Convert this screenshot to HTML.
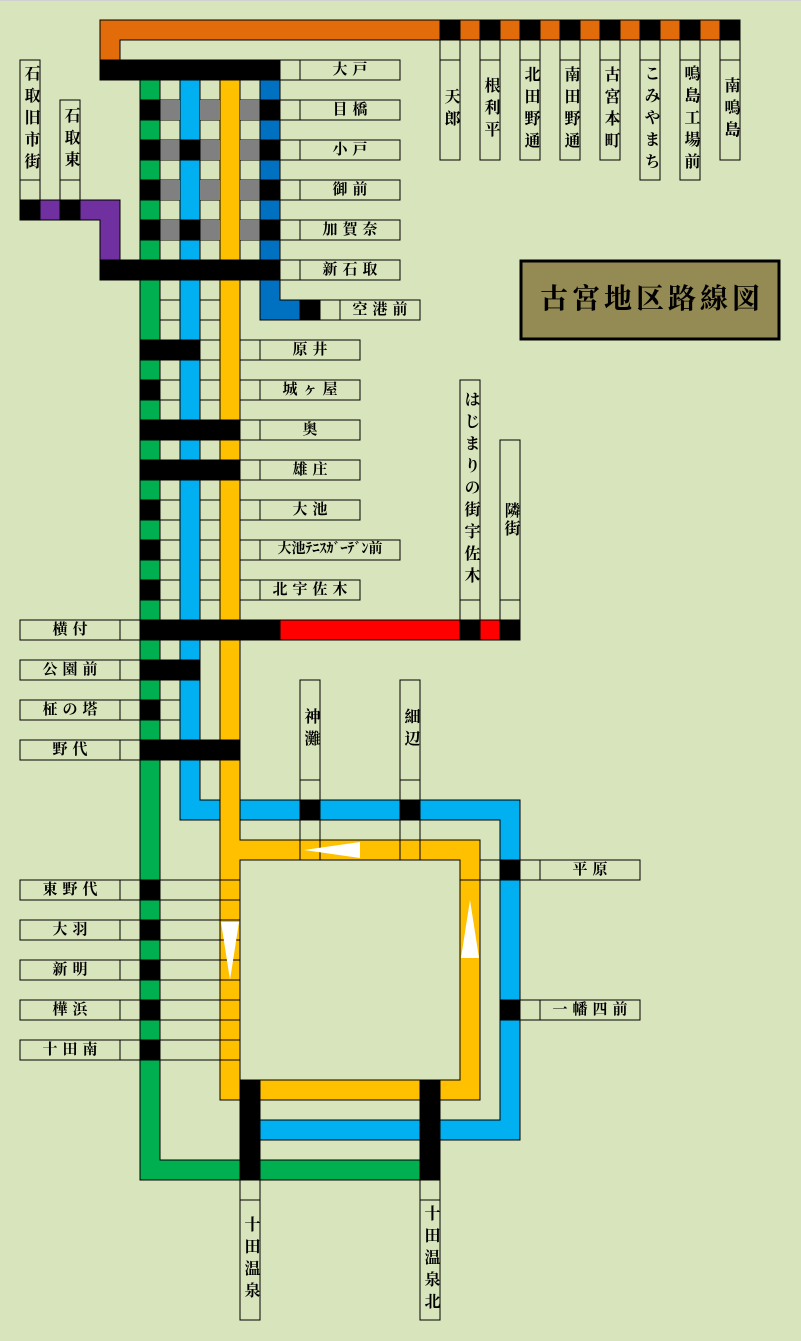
<!DOCTYPE html>
<html><head><meta charset="utf-8"><style>
html,body{margin:0;padding:0;background:#d8e4bc;}
body{width:801px;height:1341px;position:relative;overflow:hidden;font-family:"Liberation Serif","Noto Serif CJK SC","Noto Sans CJK JP",serif;}
svg{position:absolute;left:0;top:0;}
.h{position:absolute;height:20px;line-height:20px;text-align:center;font-size:15px;font-weight:bold;letter-spacing:5px;text-indent:5px;color:#000;white-space:nowrap;}
.v{position:absolute;width:20px;display:flex;align-items:center;justify-content:center;}
.v span{writing-mode:vertical-rl;font-size:16px;font-weight:bold;letter-spacing:6px;line-height:20px;color:#000;}
</style></head><body>
<svg width="801" height="1341" viewBox="0 0 801 1341" shape-rendering="crispEdges">
<rect x="0" y="0" width="801" height="1" fill="#d0d0d0"/>
<g stroke="#000" stroke-width="1">
<!-- grid cells in empty columns -->
<g fill="none">
<path d="M160,80H180M160,100H180M160,120H180M160,140H180M160,160H180M160,180H180M160,200H180M160,220H180M160,240H180M160,260H180M160,280H180M160,300H180M160,320H180M160,340H180M160,360H180M160,380H180M160,400H180M160,420H180M160,440H180M160,460H180M160,480H180M160,500H180M160,520H180M160,540H180M160,560H180M160,580H180M160,600H180M160,620H180M160,640H180M160,660H180M160,680H180M160,700H180M160,720H180M160,740H180M160,760H180"/>
<path d="M200,80H220M200,100H220M200,120H220M200,140H220M200,160H220M200,180H220M200,200H220M200,220H220M200,240H220M200,260H220M200,280H220M200,300H220M200,320H220M200,340H220M200,360H220M200,380H220M200,400H220M200,420H220M200,440H220M200,460H220M200,480H220M200,500H220M200,520H220M200,540H220M200,560H220M200,580H220M200,600H220M200,620H220"/>
<path d="M240,80H260M240,100H260M240,120H260M240,140H260M240,160H260M240,180H260M240,200H260M240,220H260M240,240H260M240,260H260"/>
</g>
<!-- lines -->
<path d="M100,20H740V40H120V60H100Z" fill="#e26b0a"/>
<path d="M20,200H120V260H100V220H20Z" fill="#7030a0"/>
<path d="M260,80H280V300H300V320H260Z" fill="#0070c0"/>
<path d="M140,80H160V1160H420V1180H140Z" fill="#00b050"/>
<path d="M180,80H200V800H520V1140H260V1120H500V820H180Z" fill="#00b0f0"/>
<path d="M220,80H240V840H480V1100H220Z M240,860V1080H460V860Z" fill="#ffc000" fill-rule="evenodd"/>
<path d="M280,620H500V640H280Z" fill="#ff0000"/>
<!-- gray -->
<g fill="#808080" stroke="none">
<rect x="160" y="100" width="20" height="20"/><rect x="200" y="100" width="20" height="20"/><rect x="240" y="100" width="20" height="20"/>
<rect x="160" y="140" width="20" height="20"/><rect x="200" y="140" width="20" height="20"/><rect x="240" y="140" width="20" height="20"/>
<rect x="160" y="180" width="20" height="20"/><rect x="200" y="180" width="20" height="20"/><rect x="240" y="180" width="20" height="20"/>
<rect x="160" y="220" width="20" height="20"/><rect x="200" y="220" width="20" height="20"/><rect x="240" y="220" width="20" height="20"/>
</g>
<!-- black stations -->
<g fill="#000">
<rect x="440" y="20" width="20" height="20"/><rect x="480" y="20" width="20" height="20"/><rect x="520" y="20" width="20" height="20"/><rect x="560" y="20" width="20" height="20"/><rect x="600" y="20" width="20" height="20"/><rect x="640" y="20" width="20" height="20"/><rect x="680" y="20" width="20" height="20"/><rect x="720" y="20" width="20" height="20"/>
<rect x="20" y="200" width="20" height="20"/><rect x="60" y="200" width="20" height="20"/>
<rect x="100" y="60" width="180" height="20"/><rect x="100" y="260" width="180" height="20"/>
<rect x="140" y="100" width="20" height="20"/><rect x="260" y="100" width="20" height="20"/>
<rect x="140" y="140" width="20" height="20"/><rect x="180" y="140" width="20" height="20"/><rect x="260" y="140" width="20" height="20"/>
<rect x="140" y="180" width="20" height="20"/><rect x="260" y="180" width="20" height="20"/>
<rect x="140" y="220" width="20" height="20"/><rect x="180" y="220" width="20" height="20"/><rect x="260" y="220" width="20" height="20"/>
<rect x="300" y="300" width="20" height="20"/>
<rect x="140" y="340" width="60" height="20"/>
<rect x="140" y="380" width="20" height="20"/>
<rect x="140" y="420" width="100" height="20"/>
<rect x="140" y="460" width="100" height="20"/>
<rect x="140" y="500" width="20" height="20"/>
<rect x="140" y="540" width="20" height="20"/>
<rect x="140" y="580" width="20" height="20"/>
<rect x="140" y="620" width="140" height="20"/>
<rect x="460" y="620" width="20" height="20"/><rect x="500" y="620" width="20" height="20"/>
<rect x="140" y="660" width="60" height="20"/>
<rect x="140" y="700" width="20" height="20"/>
<rect x="140" y="740" width="100" height="20"/>
<rect x="140" y="880" width="20" height="20"/><rect x="140" y="920" width="20" height="20"/><rect x="140" y="960" width="20" height="20"/><rect x="140" y="1000" width="20" height="20"/><rect x="140" y="1040" width="20" height="20"/>
<rect x="300" y="800" width="20" height="20"/><rect x="400" y="800" width="20" height="20"/>
<rect x="500" y="860" width="20" height="20"/><rect x="500" y="1000" width="20" height="20"/>
<rect x="240" y="1080" width="20" height="100"/><rect x="420" y="1080" width="20" height="100"/>
</g>
<!-- extra grid lines -->
<path fill="none" d="M160,880H240M160,900H240M160,920H240M160,940H240M160,960H240M160,980H240M160,1000H240M160,1020H240M160,1040H240M160,1060H240
M460,880H500M480,860H500
M300,780V860M320,780V860M400,780V860M420,780V860M300,820H320M400,820H420M300,840H320M400,840H420"/>
<!-- label boxes -->
<g fill="none">
<rect x="280" y="60" width="20" height="20"/><rect x="300" y="60" width="100" height="20"/>
<rect x="280" y="100" width="20" height="20"/><rect x="300" y="100" width="100" height="20"/>
<rect x="280" y="140" width="20" height="20"/><rect x="300" y="140" width="100" height="20"/>
<rect x="280" y="180" width="20" height="20"/><rect x="300" y="180" width="100" height="20"/>
<rect x="280" y="220" width="20" height="20"/><rect x="300" y="220" width="100" height="20"/>
<rect x="280" y="260" width="20" height="20"/><rect x="300" y="260" width="100" height="20"/>
<rect x="320" y="300" width="20" height="20"/><rect x="340" y="300" width="80" height="20"/>
<rect x="240" y="340" width="20" height="20"/><rect x="260" y="340" width="100" height="20"/>
<rect x="240" y="380" width="20" height="20"/><rect x="260" y="380" width="100" height="20"/>
<rect x="240" y="420" width="20" height="20"/><rect x="260" y="420" width="100" height="20"/>
<rect x="240" y="460" width="20" height="20"/><rect x="260" y="460" width="100" height="20"/>
<rect x="240" y="500" width="20" height="20"/><rect x="260" y="500" width="100" height="20"/>
<rect x="240" y="540" width="20" height="20"/><rect x="260" y="540" width="140" height="20"/>
<rect x="240" y="580" width="20" height="20"/><rect x="260" y="580" width="100" height="20"/>
<rect x="20" y="620" width="100" height="20"/><rect x="120" y="620" width="20" height="20"/>
<rect x="20" y="660" width="100" height="20"/><rect x="120" y="660" width="20" height="20"/>
<rect x="20" y="700" width="100" height="20"/><rect x="120" y="700" width="20" height="20"/>
<rect x="20" y="740" width="100" height="20"/><rect x="120" y="740" width="20" height="20"/>
<rect x="20" y="880" width="100" height="20"/><rect x="120" y="880" width="20" height="20"/>
<rect x="20" y="920" width="100" height="20"/><rect x="120" y="920" width="20" height="20"/>
<rect x="20" y="960" width="100" height="20"/><rect x="120" y="960" width="20" height="20"/>
<rect x="20" y="1000" width="100" height="20"/><rect x="120" y="1000" width="20" height="20"/>
<rect x="20" y="1040" width="100" height="20"/><rect x="120" y="1040" width="20" height="20"/>
<rect x="520" y="860" width="20" height="20"/><rect x="540" y="860" width="100" height="20"/>
<rect x="520" y="1000" width="20" height="20"/><rect x="540" y="1000" width="100" height="20"/>
<!-- vertical labels -->
<rect x="440" y="40" width="20" height="20"/><rect x="440" y="60" width="20" height="100"/>
<rect x="480" y="40" width="20" height="20"/><rect x="480" y="60" width="20" height="100"/>
<rect x="520" y="40" width="20" height="20"/><rect x="520" y="60" width="20" height="100"/>
<rect x="560" y="40" width="20" height="20"/><rect x="560" y="60" width="20" height="100"/>
<rect x="600" y="40" width="20" height="20"/><rect x="600" y="60" width="20" height="100"/>
<rect x="640" y="40" width="20" height="20"/><rect x="640" y="60" width="20" height="120"/>
<rect x="680" y="40" width="20" height="20"/><rect x="680" y="60" width="20" height="120"/>
<rect x="720" y="40" width="20" height="20"/><rect x="720" y="60" width="20" height="100"/>
<rect x="20" y="60" width="20" height="120"/><rect x="20" y="180" width="20" height="20"/>
<rect x="60" y="100" width="20" height="80"/><rect x="60" y="180" width="20" height="20"/>
<rect x="460" y="380" width="20" height="220"/><rect x="460" y="600" width="20" height="20"/>
<rect x="500" y="440" width="20" height="160"/><rect x="500" y="600" width="20" height="20"/>
<rect x="300" y="680" width="20" height="100"/>
<rect x="400" y="680" width="20" height="100"/>
<rect x="240" y="1180" width="20" height="20"/><rect x="240" y="1200" width="20" height="120"/>
<rect x="420" y="1180" width="20" height="20"/><rect x="420" y="1200" width="20" height="120"/>
</g>
</g>
<!-- arrows -->
<g fill="#fff" shape-rendering="auto">
<polygon points="304,850 360,842 360,858"/>
<polygon points="221,922 239,922 230,980"/>
<polygon points="470,900 461,958 479,958"/>
</g>
<!-- title -->
<rect x="521" y="261" width="258" height="78" fill="#948a54" stroke="#000" stroke-width="3"/>
</svg>

<div style="position:absolute;left:521px;top:261px;width:258px;height:78px;line-height:78px;text-align:center;font-size:28px;font-weight:bold;letter-spacing:4px;text-indent:4px;">古宮地区路線図</div>

<div class="h" style="left:300px;top:60px;width:100px">大戸</div>
<div class="h" style="left:300px;top:100px;width:100px">目橋</div>
<div class="h" style="left:300px;top:140px;width:100px">小戸</div>
<div class="h" style="left:300px;top:180px;width:100px">御前</div>
<div class="h" style="left:300px;top:220px;width:100px">加賀奈</div>
<div class="h" style="left:300px;top:260px;width:100px">新石取</div>
<div class="h" style="left:340px;top:300px;width:80px">空港前</div>
<div class="h" style="left:260px;top:340px;width:100px">原井</div>
<div class="h" style="left:260px;top:380px;width:100px">城ヶ屋</div>
<div class="h" style="left:260px;top:420px;width:100px">奥</div>
<div class="h" style="left:260px;top:460px;width:100px">雄庄</div>
<div class="h" style="left:260px;top:500px;width:100px">大池</div>
<div class="h" style="left:260px;top:540px;width:140px;letter-spacing:0;text-indent:0;font-size:14px">大池ﾃﾆｽｶﾞｰﾃﾞﾝ前</div>
<div class="h" style="left:260px;top:580px;width:100px">北宇佐木</div>
<div class="h" style="left:20px;top:620px;width:100px">横付</div>
<div class="h" style="left:20px;top:660px;width:100px">公園前</div>
<div class="h" style="left:20px;top:700px;width:100px">柾の塔</div>
<div class="h" style="left:20px;top:740px;width:100px">野代</div>
<div class="h" style="left:20px;top:880px;width:100px">東野代</div>
<div class="h" style="left:20px;top:920px;width:100px">大羽</div>
<div class="h" style="left:20px;top:960px;width:100px">新明</div>
<div class="h" style="left:20px;top:1000px;width:100px">樺浜</div>
<div class="h" style="left:20px;top:1040px;width:100px">十田南</div>
<div class="h" style="left:540px;top:860px;width:100px">平原</div>
<div class="h" style="left:540px;top:1000px;width:100px">一幡四前</div>

<div class="v" style="left:440px;top:60px;height:100px"><span>天郎</span></div>
<div class="v" style="left:480px;top:60px;height:100px"><span>根利平</span></div>
<div class="v" style="left:520px;top:60px;height:100px"><span>北田野通</span></div>
<div class="v" style="left:560px;top:60px;height:100px"><span>南田野通</span></div>
<div class="v" style="left:600px;top:60px;height:100px"><span>古宮本町</span></div>
<div class="v" style="left:640px;top:60px;height:120px"><span>こみやまち</span></div>
<div class="v" style="left:680px;top:60px;height:120px"><span>鳴島工場前</span></div>
<div class="v" style="left:720px;top:60px;height:100px"><span>南鳴島</span></div>
<div class="v" style="left:20px;top:60px;height:120px"><span>石取旧市街</span></div>
<div class="v" style="left:60px;top:100px;height:80px"><span>石取東</span></div>
<div class="v" style="left:460px;top:380px;height:220px"><span>はじまりの街宇佐木</span></div>
<div class="v" style="left:500px;top:440px;height:160px"><span style="letter-spacing:2px">隣街</span></div>
<div class="v" style="left:300px;top:680px;height:100px"><span>神灘</span></div>
<div class="v" style="left:400px;top:680px;height:100px"><span>細辺</span></div>
<div class="v" style="left:240px;top:1200px;height:120px"><span>十田温泉</span></div>
<div class="v" style="left:420px;top:1200px;height:120px"><span>十田温泉北</span></div>
</body></html>
